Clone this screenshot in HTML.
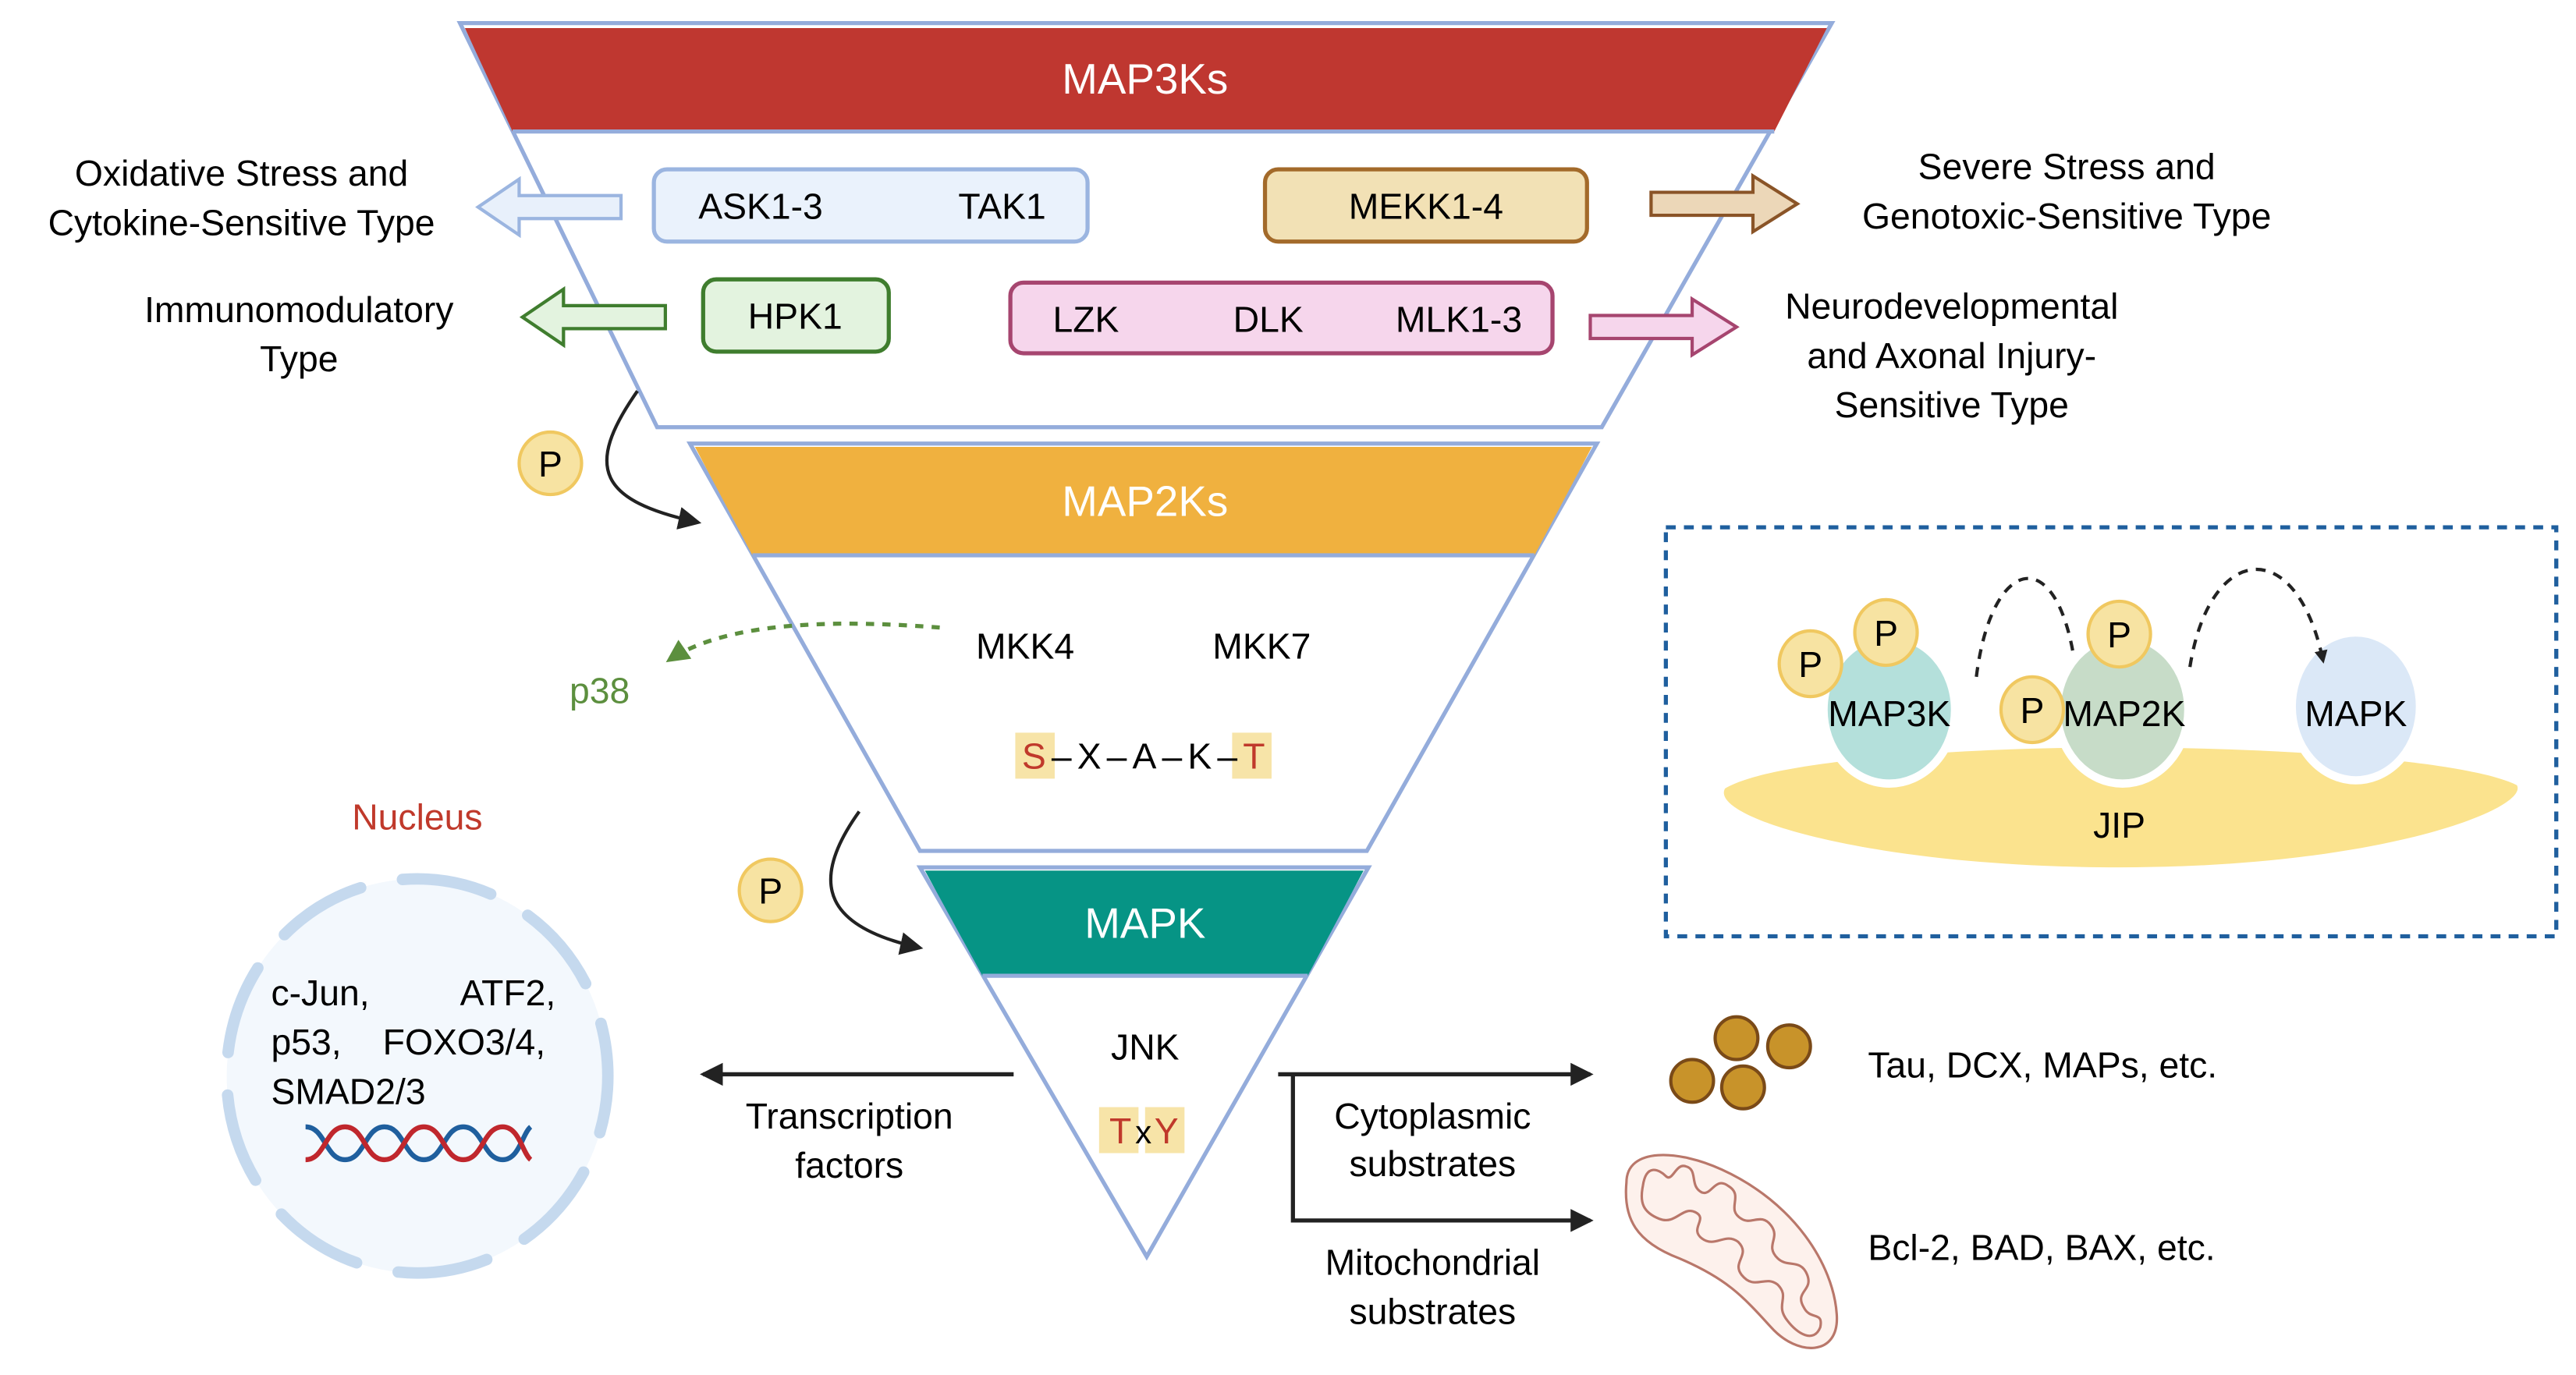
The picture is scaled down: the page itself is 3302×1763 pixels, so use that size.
<!DOCTYPE html>
<html><head><meta charset="utf-8"><style>
html,body{margin:0;padding:0;background:#fff;}
svg{display:block;}
text{font-family:"Liberation Sans",sans-serif;}
</style></head><body>
<svg width="3302" height="1763" viewBox="0 0 1568 837" xmlns="http://www.w3.org/2000/svg">
<defs>
<marker id="ah" markerWidth="8" markerHeight="8" refX="6" refY="4" orient="auto" markerUnits="userSpaceOnUse"><path d="M0,0 L8,4 L0,8 Z" fill="#222"/></marker>
<marker id="ah2" markerWidth="14" markerHeight="14" refX="12" refY="7" orient="auto" markerUnits="userSpaceOnUse"><path d="M0,0 L14,7 L0,14 Z" fill="#222"/></marker>
<marker id="ahg" markerWidth="14" markerHeight="14" refX="12" refY="7" orient="auto" markerUnits="userSpaceOnUse"><path d="M0,0 L14,7 L0,14 Z" fill="#5c8f3e"/></marker>
</defs>
<rect width="1568" height="837" fill="#fff"/>

<polygon points="280,14 1115,14 975,260 400,260" fill="#fff" stroke="#94acdb" stroke-width="2.5"/>
<polygon points="283,17 1112,17 1080,80 312,80" fill="#bf3730"/>
<line x1="312" y1="80" x2="1080" y2="80" stroke="#94acdb" stroke-width="2.5"/>
<text x="697" y="57" font-size="26" fill="#fff" text-anchor="middle">MAP3Ks</text>

<rect x="398" y="103" width="264" height="44" rx="8" fill="#eaf2fc" stroke="#9bb5e0" stroke-width="2.5"/>
<text x="463" y="133" font-size="22" text-anchor="middle">ASK1-3</text>
<text x="610" y="133" font-size="22" text-anchor="middle">TAK1</text>
<rect x="770" y="103" width="196" height="44" rx="8" fill="#f2e1b5" stroke="#a36a2a" stroke-width="2.5"/>
<text x="868" y="133" font-size="22" text-anchor="middle">MEKK1-4</text>
<rect x="428" y="170" width="113" height="44" rx="8" fill="#e3f3df" stroke="#3f7d2e" stroke-width="2.5"/>
<text x="484" y="200" font-size="22" text-anchor="middle">HPK1</text>
<rect x="615" y="172" width="330" height="43" rx="8" fill="#f6d6ec" stroke="#a6456f" stroke-width="2.5"/>
<text x="661" y="202" font-size="22" text-anchor="middle">LZK</text>
<text x="772" y="202" font-size="22" text-anchor="middle">DLK</text>
<text x="888" y="202" font-size="22" text-anchor="middle">MLK1-3</text>

<polygon points="378,119 316,119 316,109 291,126 316,143 316,133 378,133" fill="#e8f0fb" stroke="#9bb5e0" stroke-width="2"/>
<polygon points="405,186 343,186 343,176 318,193 343,210 343,200 405,200" fill="#e3f3df" stroke="#3f7d2e" stroke-width="2"/>
<polygon points="1005,117 1067,117 1067,107 1094,124 1067,141 1067,131 1005,131" fill="#ecd7b8" stroke="#8a5427" stroke-width="2"/>
<polygon points="968,192 1030,192 1030,182 1057,199 1030,216 1030,206 968,206" fill="#f6d6ec" stroke="#a6456f" stroke-width="2"/>

<g font-size="22" text-anchor="middle">
<text x="147" y="113">Oxidative Stress and</text>
<text x="147" y="143">Cytokine-Sensitive Type</text>
<text x="182" y="196">Immunomodulatory</text>
<text x="182" y="226">Type</text>
<text x="1258" y="109">Severe Stress and</text>
<text x="1258" y="139">Genotoxic-Sensitive Type</text>
<text x="1188" y="194">Neurodevelopmental</text>
<text x="1188" y="224">and Axonal Injury-</text>
<text x="1188" y="254">Sensitive Type</text>
</g>

<polygon points="420,270 972,270 832,518 560,518" fill="#fff" stroke="#94acdb" stroke-width="2.5"/>
<polygon points="423,272 969,272 934,338 458,338" fill="#f0b13f"/>
<line x1="458" y1="338" x2="934" y2="338" stroke="#94acdb" stroke-width="2.5"/>
<text x="697" y="314" font-size="26" fill="#fff" text-anchor="middle">MAP2Ks</text>
<text x="624" y="401" font-size="22" text-anchor="middle">MKK4</text>
<text x="768" y="401" font-size="22" text-anchor="middle">MKK7</text>
<rect x="618" y="446" width="24" height="28" fill="#f7e4a8"/>
<rect x="750" y="446" width="24" height="28" fill="#f7e4a8"/>
<text x="622" y="468" font-size="22" textLength="148" lengthAdjust="spacing"><tspan fill="#c0392b">S</tspan>–X–A–K–<tspan fill="#c0392b">T</tspan></text>

<path d="M572,382 C520,378 445,376 407,402" fill="none" stroke="#5c8f3e" stroke-width="2.5" stroke-dasharray="5,5" marker-end="url(#ahg)"/>
<text x="365" y="428" font-size="22" fill="#5c8f3e" text-anchor="middle">p38</text>

<path d="M388,238 C355,285 365,305 425,318" fill="none" stroke="#222" stroke-width="2" marker-end="url(#ah2)"/>
<circle cx="335" cy="282" r="19" fill="#f7e3a2" stroke="#f0c860" stroke-width="2"/>
<text x="335" y="290" font-size="22" text-anchor="middle">P</text>
<path d="M523,494 C490,540 505,565 560,577" fill="none" stroke="#222" stroke-width="2" marker-end="url(#ah2)"/>
<circle cx="469" cy="542" r="19" fill="#f7e3a2" stroke="#f0c860" stroke-width="2"/>
<text x="469" y="550" font-size="22" text-anchor="middle">P</text>

<polygon points="560,528 833,528 698,765" fill="#fff" stroke="#94acdb" stroke-width="2.5"/>
<polygon points="563,530 830,530 796,594 598,594" fill="#069485"/>
<line x1="598" y1="594" x2="796" y2="594" stroke="#94acdb" stroke-width="2.5"/>
<text x="697" y="571" font-size="26" fill="#fff" text-anchor="middle">MAPK</text>
<text x="697" y="645" font-size="22" text-anchor="middle">JNK</text>
<rect x="669" y="674" width="24" height="28" fill="#f7e4a8"/>
<rect x="697" y="674" width="24" height="28" fill="#f7e4a8"/>
<text x="682" y="696" font-size="22" fill="#c0392b" text-anchor="middle">T</text>
<text x="696" y="696" font-size="20" text-anchor="middle">x</text>
<text x="710" y="696" font-size="22" fill="#c0392b" text-anchor="middle">Y</text>

<line x1="617" y1="654" x2="428" y2="654" stroke="#222" stroke-width="2.5" marker-end="url(#ah2)"/>
<text x="517" y="687" font-size="22" text-anchor="middle">Transcription</text>
<text x="517" y="717" font-size="22" text-anchor="middle">factors</text>
<polyline points="778,654 968,654" fill="none" stroke="#222" stroke-width="2.5" marker-end="url(#ah2)"/>
<polyline points="787,654 787,743 968,743" fill="none" stroke="#222" stroke-width="2.5" marker-end="url(#ah2)"/>
<g font-size="22" text-anchor="middle">
<text x="872" y="687">Cytoplasmic</text>
<text x="872" y="716">substrates</text>
<text x="872" y="776">Mitochondrial</text>
<text x="872" y="806">substrates</text>
</g>

<g fill="#c8932a" stroke="#7a4a18" stroke-width="2">
<circle cx="1057" cy="632" r="13"/><circle cx="1089" cy="637" r="13"/>
<circle cx="1030" cy="658" r="13"/><circle cx="1061" cy="662" r="13"/>
</g>
<text x="1137" y="656" font-size="22">Tau, DCX, MAPs, etc.</text>
<path d="M990,720 C990,698 1022,700 1048,712 C1092,732 1116,770 1118,800 C1120,826 1094,826 1078,808 C1060,788 1050,778 1022,766 C996,756 988,742 990,720 Z" fill="#fdf1ec" stroke="#b9776a" stroke-width="1.5"/>
<path d="M1000,722 C1002,708 1010,712 1014,716 C1018,720 1020,708 1026,710 C1034,712 1028,722 1036,726 C1042,728 1044,716 1052,722 C1062,728 1050,736 1060,742 C1066,746 1072,738 1078,746 C1084,754 1074,758 1082,766 C1088,772 1096,766 1100,776 C1104,786 1092,786 1098,796 C1102,804 1110,798 1108,808 C1104,818 1094,812 1088,804 C1080,794 1090,790 1082,782 C1074,776 1068,786 1060,776 C1054,768 1066,764 1058,756 C1050,750 1044,760 1036,754 C1028,748 1040,742 1032,738 C1024,734 1020,746 1010,742 C1000,738 998,732 1000,722 Z" fill="none" stroke="#b9776a" stroke-width="1.5"/>
<text x="1137" y="767" font-size="22">Bcl-2, BAD, BAX, etc.</text>

<text x="254" y="505" font-size="22" fill="#c0392b" text-anchor="middle">Nucleus</text>
<ellipse cx="254" cy="655" rx="116" ry="120" fill="#f3f8fd"/>
<ellipse cx="254" cy="655" rx="116" ry="120" fill="none" stroke="#c5d9ee" stroke-width="7" stroke-linecap="round" stroke-dasharray="55,26" stroke-dashoffset="20"/>
<g font-size="22">
<text x="165" y="612">c-Jun,</text><text x="280" y="612">ATF2,</text>
<text x="165" y="642">p53,</text><text x="233" y="642">FOXO3/4,</text>
<text x="165" y="672">SMAD2/3</text>
</g>
<path d="M186,686 C198,686 198,706 210,706 C222,706 222,686 234,686 C246,686 246,706 258,706 C270,706 270,686 282,686 C294,686 294,706 306,706 C316,706 318,690 323,686" fill="none" stroke="#1f5f9e" stroke-width="3"/>
<path d="M186,706 C198,706 198,686 210,686 C222,686 222,706 234,706 C246,706 246,686 258,686 C270,686 270,706 282,706 C294,706 294,686 306,686 C316,686 318,702 323,706" fill="none" stroke="#c0272d" stroke-width="3"/>

<rect x="1014" y="321" width="542" height="249" fill="none" stroke="#1f5f9e" stroke-width="2.5" stroke-dasharray="6,5"/>
<path d="M1050,480 C1080,462 1200,455 1290,455 C1380,455 1500,462 1532,478 C1540,492 1450,528 1290,528 C1140,528 1040,498 1050,480 Z" fill="#fbe38e"/>
<ellipse cx="1150" cy="432" rx="40" ry="45" fill="#b4e0db" stroke="#fff" stroke-width="5"/>
<ellipse cx="1292" cy="432" rx="40" ry="45" fill="#c7dcc8" stroke="#fff" stroke-width="5"/>
<ellipse cx="1434" cy="430" rx="39" ry="45" fill="#dbe8f7" stroke="#fff" stroke-width="5"/>
<g fill="#f7e3a2" stroke="#f0c860" stroke-width="2">
<ellipse cx="1102" cy="404" rx="19" ry="20"/><ellipse cx="1148" cy="385" rx="19" ry="20"/>
<ellipse cx="1290" cy="386" rx="19" ry="20"/><ellipse cx="1237" cy="432" rx="19" ry="20"/>
</g>
<g font-size="22" text-anchor="middle">
<text x="1102" y="412">P</text><text x="1148" y="393">P</text><text x="1290" y="394">P</text><text x="1237" y="440">P</text>
<text x="1150" y="442">MAP3K</text><text x="1293" y="442">MAP2K</text><text x="1434" y="442">MAPK</text>
<text x="1290" y="510">JIP</text>
</g>
<path d="M1203,412 C1212,340 1250,330 1262,398" fill="none" stroke="#222" stroke-width="2" stroke-dasharray="6,5"/>
<path d="M1333,406 C1345,330 1398,325 1414,402" fill="none" stroke="#222" stroke-width="2" stroke-dasharray="6,5" marker-end="url(#ah)"/>
</svg>
</body></html>
